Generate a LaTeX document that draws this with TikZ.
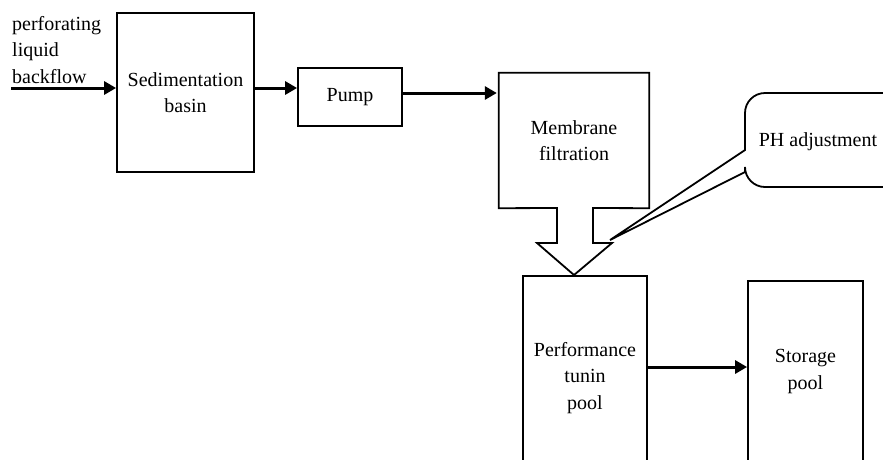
\documentclass[tikz,border=0pt]{standalone}
\usepackage{fontspec}
\setmainfont{Liberation Serif}
\usetikzlibrary{arrows.meta}
\begin{document}
\begin{tikzpicture}[x=1pt,y=-1pt,
  font=\fontsize{20}{26.5}\selectfont,
  box/.style={draw, inner sep=0pt, align=center, line width=1.8pt},
  txt/.style={inner sep=0pt, align=center},
  outline/.style={draw, line width=1.8pt, line join=miter},
  flow/.style={-{Triangle[length=12pt,width=13pt]}, line width=3pt}]
\useasboundingbox (0,0) rectangle (883,459);
\clip (0,0) rectangle (883,459);

% nodes
\node[txt, align=left, anchor=west] (src) at (12,50) {perforating\\liquid\\backflow};
\coordinate (in) at (11,88);
\node[box, minimum width=137pt, minimum height=159pt] (sed) at (185.5,92.5) {Sedimentation\\basin};
\node[box, minimum width=104pt, minimum height=58pt] (pump) at (350,97) {Pump};
\node[txt, minimum width=150pt, minimum height=135pt] (memb) at (574,140.5) {Membrane\\filtration};
\node[box, minimum width=124pt, minimum height=204pt] (perf) at (585,378) {Performance\\tunin\\pool};
\node[box, minimum width=115pt, minimum height=181pt] (stor) at (805.5,371.5) {Storage\\pool};
\node[txt] (ph) at (818,142) {PH adjustment};
\coordinate (tip) at (610,240);

% membrane block arrow outline
\draw[outline] (memb.south west) -- (memb.north west) -- (memb.north east) -- (memb.south east)
  -- (593,208) -- (593,243) -- (612,243) -- (574,275) -- (537,243) -- (557,243) -- (557,208) -- cycle;

% PH adjustment callout
\draw[outline] (745,150) [rounded corners=20pt] -- (745,93) -- (905,93) -- (905,187) -- (745,187)
  [sharp corners] -- (745,172) -- (tip) -- cycle;

% connectors
\draw[flow] (in) -- (in -| sed.west);
\draw[flow] (sed.east |- in) -- (pump.west |- in);
\draw[flow] (pump.east |- 0,93) -- ([xshift=-2pt]memb.west |- 0,93);
\draw[flow] (perf.east |- 0,367) -- (stor.west |- 0,367);
\end{tikzpicture}
\end{document}
